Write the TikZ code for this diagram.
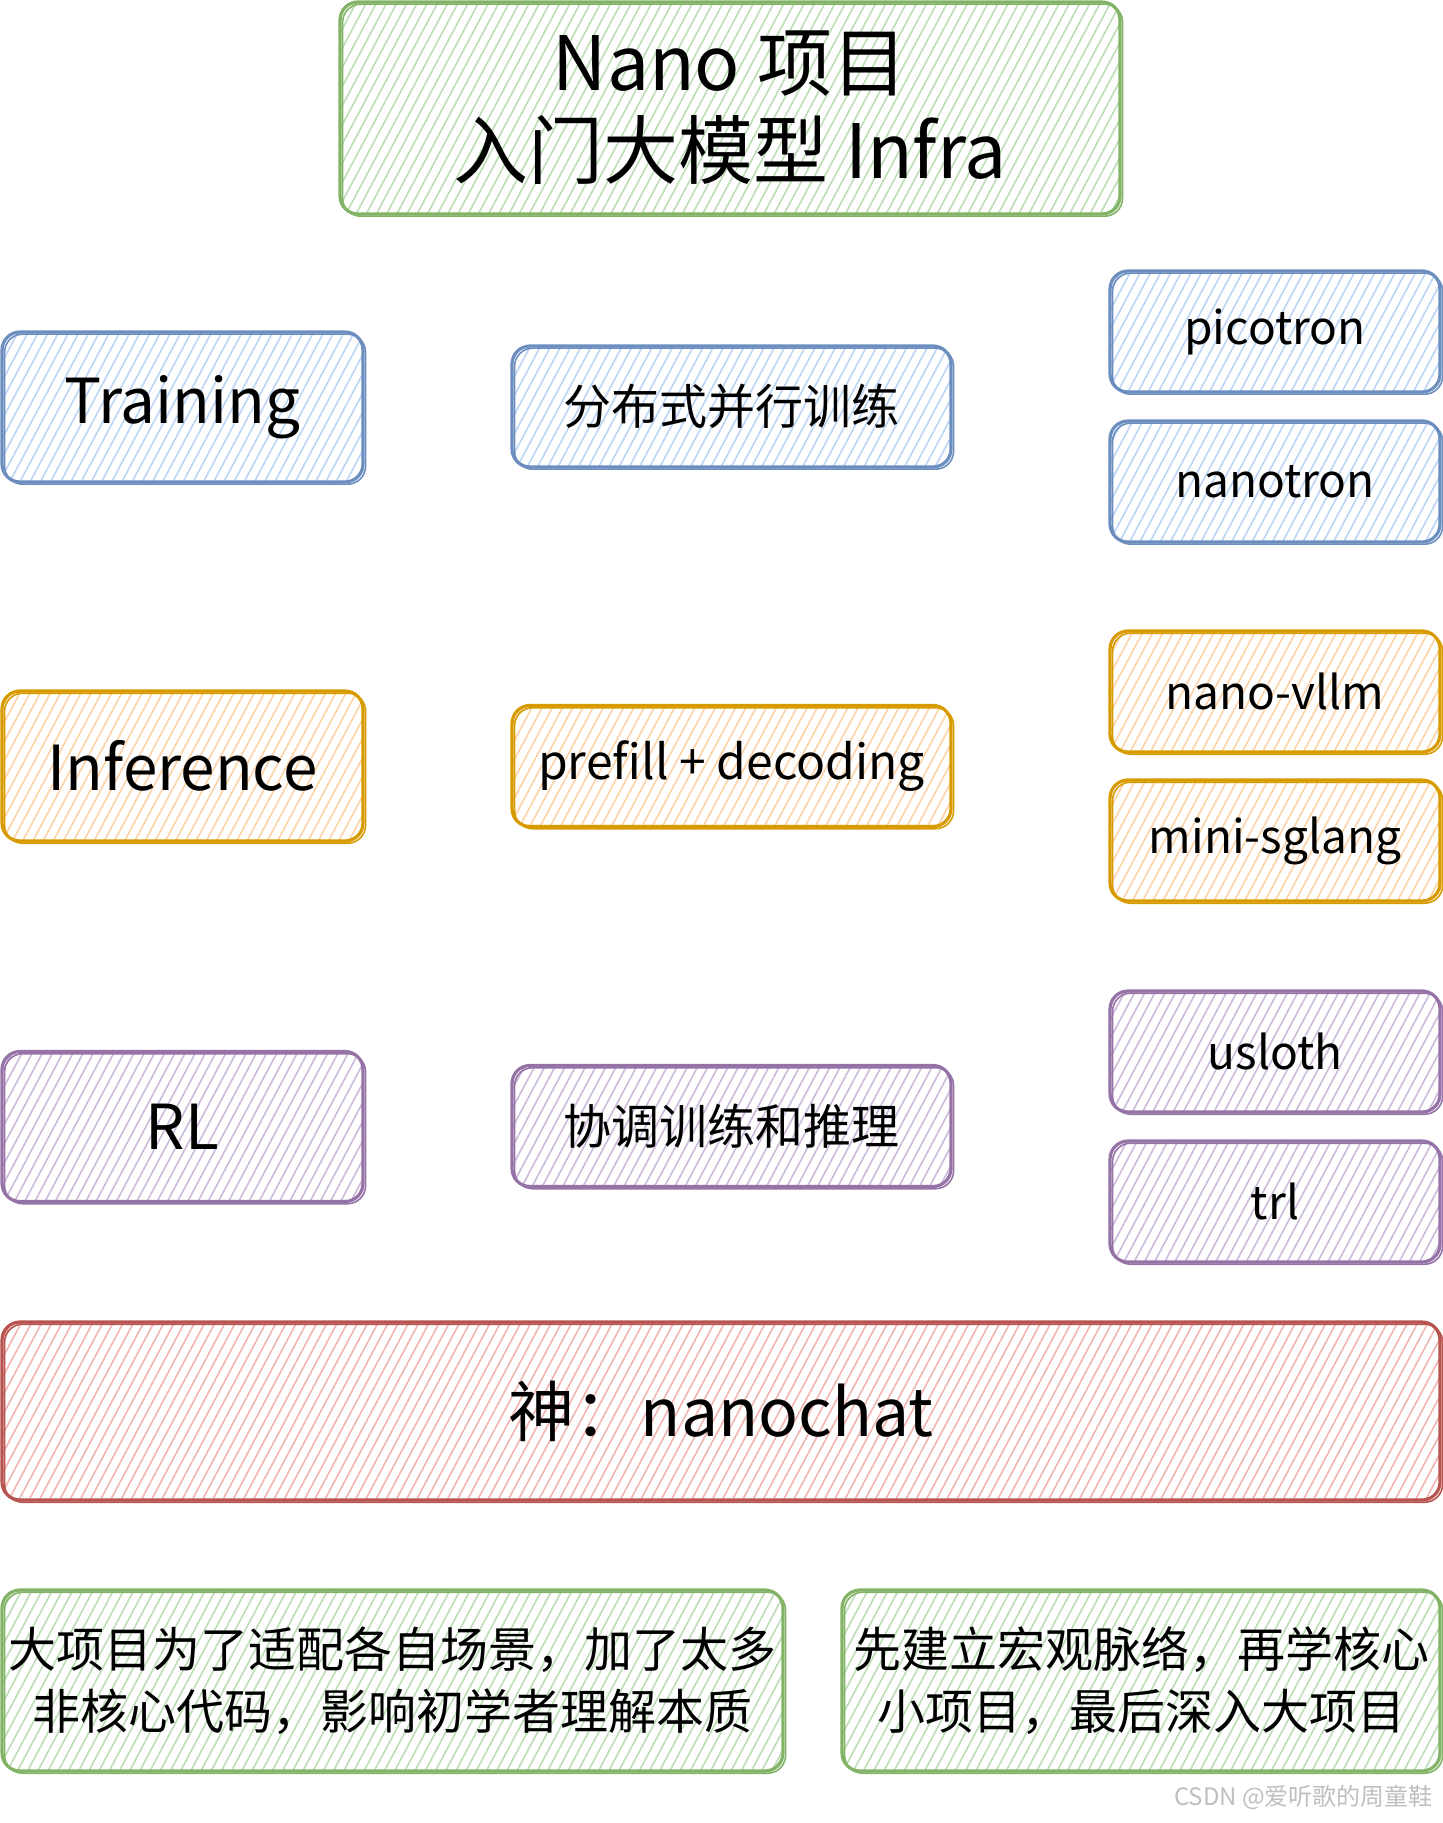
\documentclass[tikz,border=0pt]{standalone}
\usepackage{fontspec}
\setmainfont{Noto Sans CJK SC}
\usepackage{tikz}
\usetikzlibrary{patterns.meta,positioning}

\definecolor{bluedraw}{HTML}{6C8EBF}
\definecolor{bluefill}{HTML}{BCD4F6}
\definecolor{orangedraw}{HTML}{D79B00}
\definecolor{orangefill}{HTML}{FDD3A6}
\definecolor{purpledraw}{HTML}{9673A6}
\definecolor{purplefill}{HTML}{CDBADA}
\definecolor{greendraw}{HTML}{82B366}
\definecolor{greenfill}{HTML}{BCDDB6}
\definecolor{reddraw}{HTML}{B85450}
\definecolor{redfill}{HTML}{F2B4B1}

\tikzset{
  sketchbox/.style 2 args={draw=#1, line width=1.6pt, rounded corners=9pt,
    pattern={Lines[angle=62,distance=4.5pt,line width=0.8pt]}, pattern color=#2,
    postaction={draw=#1, line width=0.8pt, rounded corners=9pt,
      transform canvas={xshift=1.3pt,yshift=-1.1pt}},
    align=center, inner sep=0pt, text=black},
  trainbox/.style={sketchbox={bluedraw}{bluefill}},
  infbox/.style={sketchbox={orangedraw}{orangefill}},
  rlbox/.style={sketchbox={purpledraw}{purplefill}},
  notebox/.style={sketchbox={greendraw}{greenfill}},
  godbox/.style={sketchbox={reddraw}{redfill}},
  lbox/.style={minimum width=180.5pt, minimum height=75pt, font=\fontsize{31}{36}\selectfont},
  mbox/.style={minimum width=219.5pt, minimum height=60.5pt, font=\fontsize{24}{28}\selectfont},
  rbox/.style={minimum width=165pt, minimum height=60.5pt, font=\fontsize{23}{27}\selectfont},
}

\begin{document}
\begin{tikzpicture}[x=0.5pt,y=-0.5pt]
  \useasboundingbox (0,0) rectangle (1443,1823);
  % title
  \node[notebox, minimum width=390pt, minimum height=106pt,
        font=\fontsize{37.5}{44}\selectfont] (title) at (730,108)
        {Nano 项目\\入门大模型 Infra};
  % training row
  \node[trainbox,lbox] (train) at (182.5,407) {Training};
  \node[trainbox,mbox] (dist) at (731.5,406.5) {分布式并行训练};
  \node[trainbox,rbox] (pico) at (1275,331.5) {picotron};
  \node[trainbox,rbox] (nanotron) at (1275,481.5) {nanotron};
  % inference row
  \node[infbox,lbox] (infer) at (182.5,766) {Inference};
  \node[infbox,mbox] (prefill) at (731.5,766) {prefill + decoding};
  \node[infbox,rbox] (vllm) at (1275,691.5) {nano-vllm};
  \node[infbox,rbox] (sglang) at (1275,840.5) {mini-sglang};
  % rl row
  \node[rlbox,lbox] (rl) at (182.5,1126.5) {RL};
  \node[rlbox,mbox] (coord) at (731.5,1126) {协调训练和推理};
  \node[rlbox,rbox] (usloth) at (1275,1051.5) {usloth};
  \node[rlbox,rbox] (trl) at (1275,1201.5) {trl};
  % bottom
  \node[godbox, minimum width=719pt, minimum height=89pt,
        font=\fontsize{33}{38}\selectfont] (nanochat) at (721,1411) {神：nanochat};
  \node[notebox, minimum width=390.5pt, minimum height=90.5pt,
        font=\fontsize{24}{31}\selectfont] (noteL) at (392.5,1680.5)
        {大项目为了适配各自场景，加了太多\\非核心代码，影响初学者理解本质};
  \node[notebox, minimum width=299pt, minimum height=90.5pt,
        font=\fontsize{24}{31}\selectfont] (noteR) at (1141,1680.5)
        {先建立宏观脉络，再学核心\\小项目，最后深入大项目};
  \node[anchor=east, text=black!25, font=\fontsize{12}{14}\selectfont] (mark)
        at (1440,1797) {CSDN @爱听歌的周童鞋};
\end{tikzpicture}
\end{document}
